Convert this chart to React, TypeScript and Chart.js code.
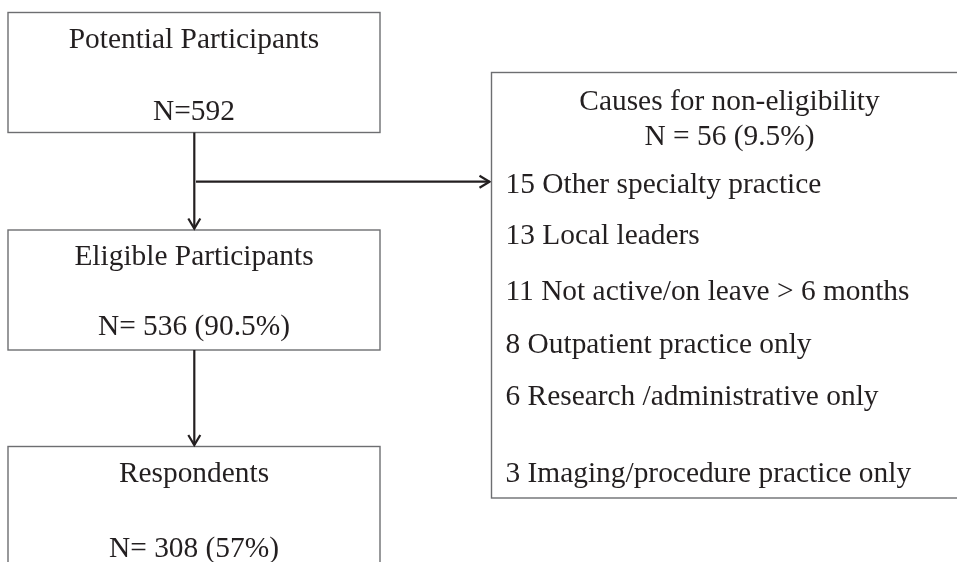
import React, { useEffect, useRef } from "react";
import { Chart, registerables } from "chart.js";

Chart.register(...registerables);

// ---- Content (data) ----
const stageLabels = ["Potential Participants", "Eligible Participants", "Respondents"];
const stageCounts = ["N=592", "N= 536 (90.5%)", "N= 308 (57%)"];
const exclusionTitle = "Causes for non-eligibility";
const exclusionTotal = "N = 56 (9.5%)";
const exclusionCounts = [15, 13, 11, 8, 6, 3];
const exclusionReasons = [
  "Other specialty practice",
  "Local leaders",
  "Not active/on leave > 6 months",
  "Outpatient practice only",
  "Research /administrative only",
  "Imaging/procedure practice only",
];

// ---- Layout (in scale units matching the 957x562 frame) ----
const W = 957;
const H = 562;
const stageBoxes = [
  { x0: 8, y0: 12.5, x1: 380, y1: 132.5, t1: 48, t2: 119.5 },
  { x0: 8, y0: 230, x1: 380, y1: 350, t1: 265, t2: 335 },
  { x0: 8, y0: 446.5, x1: 380, y1: 620, t1: 481.5, t2: 557 },
];
const exclBox = { x0: 491.5, y0: 72.5, x1: 968, y1: 498 };
const exclHeaderY = [110, 145];
const exclCenterX = 729.5;
const exclTextX = 505.5;
const exclItemY = [193, 243.5, 300, 352.5, 405, 481.5];
const spineX = 194.3;
const branchY = 181.7;
const branchX0 = 196;

const FONT = "29.4px 'Liberation Serif', 'Times New Roman', serif";
const TEXT = "#231f20";
const BOX = "#6d6e71";
const ARROW = "#231f20";

const flowPlugin = {
  id: "flow",
  afterDraw(chart: any) {
    const { ctx } = chart;
    const xs = chart.scales.x;
    const ys = chart.scales.y;
    const px = (v: number) => xs.getPixelForValue(v);
    const py = (v: number) => ys.getPixelForValue(v);

    ctx.save();
    ctx.fillStyle = "#ffffff";
    ctx.fillRect(0, 0, chart.width, chart.height);

    const rect = (b: { x0: number; y0: number; x1: number; y1: number }) => {
      ctx.strokeStyle = BOX;
      ctx.lineWidth = 1.4;
      ctx.strokeRect(px(b.x0), py(b.y0), px(b.x1) - px(b.x0), py(b.y1) - py(b.y0));
    };

    const arrowHead = (x: number, y: number, dir: "down" | "right") => {
      ctx.beginPath();
      if (dir === "down") {
        ctx.moveTo(x - 6, y - 10);
        ctx.lineTo(x, y);
        ctx.lineTo(x + 6, y - 10);
      } else {
        ctx.moveTo(x - 10, y - 6);
        ctx.lineTo(x, y);
        ctx.lineTo(x - 10, y + 6);
      }
      ctx.stroke();
    };

    // Stage boxes & texts
    ctx.font = FONT;
    ctx.fillStyle = TEXT;
    ctx.textBaseline = "alphabetic";
    stageBoxes.forEach((b, i) => {
      rect(b);
      const cx = px((b.x0 + b.x1) / 2);
      ctx.textAlign = "center";
      ctx.fillStyle = TEXT;
      ctx.fillText(stageLabels[i], cx, py(b.t1));
      ctx.fillText(stageCounts[i], cx, py(b.t2));
    });

    // Arrows between stages
    ctx.strokeStyle = ARROW;
    ctx.lineWidth = 2.2;
    ctx.lineJoin = "miter";
    for (let i = 0; i < stageBoxes.length - 1; i++) {
      const a = stageBoxes[i];
      const b = stageBoxes[i + 1];
      ctx.beginPath();
      ctx.moveTo(px(spineX), py(a.y1));
      ctx.lineTo(px(spineX), py(b.y0) - 1.5);
      ctx.stroke();
      arrowHead(px(spineX), py(b.y0) - 1.5, "down");
    }

    // Branch arrow to exclusion box
    ctx.beginPath();
    ctx.moveTo(px(branchX0), py(branchY));
    ctx.lineTo(px(exclBox.x0) - 2, py(branchY));
    ctx.stroke();
    arrowHead(px(exclBox.x0) - 2, py(branchY), "right");

    // Exclusion box
    rect(exclBox);
    ctx.fillStyle = TEXT;
    ctx.textAlign = "center";
    ctx.fillText(exclusionTitle, px(exclCenterX), py(exclHeaderY[0]));
    ctx.fillText(exclusionTotal, px(exclCenterX), py(exclHeaderY[1]));
    ctx.textAlign = "left";
    exclusionCounts.forEach((n, i) => {
      ctx.fillText(`${n} ${exclusionReasons[i]}`, px(exclTextX), py(exclItemY[i]));
    });

    ctx.restore();
  },
};

export default function App() {
  const ref = useRef<HTMLCanvasElement | null>(null);

  useEffect(() => {
    document.body.style.margin = "0";
    if (!ref.current) return;
    const chart = new Chart(ref.current, {
      type: "scatter",
      data: { datasets: [{ data: [], pointRadius: 0 }] },
      options: {
        animation: false,
        responsive: false,
        maintainAspectRatio: false,
        devicePixelRatio: 1,
        layout: { padding: 0 },
        plugins: { legend: { display: false }, tooltip: { enabled: false } },
        scales: {
          x: { type: "linear", min: 0, max: W, display: false },
          y: { type: "linear", min: 0, max: H, reverse: true, display: false },
        },
      },
      plugins: [flowPlugin],
    });
    return () => chart.destroy();
  }, []);

  return (
    <div style={{ width: W, height: H, background: "#fff" }}>
      <canvas ref={ref} width={W} height={H} style={{ display: "block", width: W, height: H }} />
    </div>
  );
}
